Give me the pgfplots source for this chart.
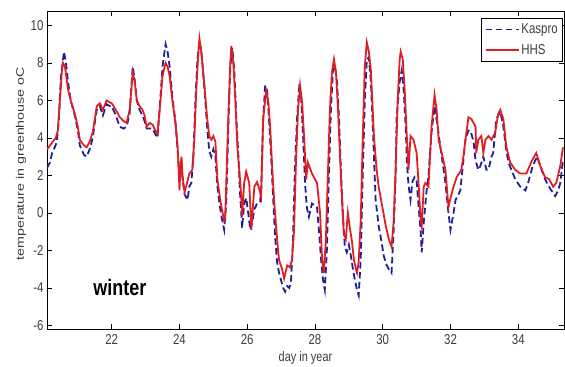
\documentclass[border=0pt]{standalone}
\usepackage{pgfplots}
\pgfplotsset{compat=1.18}
\usepackage{fontspec}
\setmainfont{Liberation Sans}
\definecolor{kblue}{RGB}{30,30,150}
\definecolor{hred}{RGB}{225,30,35}
\definecolor{tgray}{RGB}{60,60,60}
\begin{document}
\begin{tikzpicture}
\begin{axis}[name=ax,
  scale only axis, width=517bp, height=318bp,
  xmin=20.09, xmax=35.35, ymin=-6.19, ymax=10.77,
  xtick={22,24,...,34}, ytick={-6,-4,...,10},
  tick align=inside, major tick length=5bp,
  axis line style={line width=0.8pt}, every tick/.style={black,line width=0.6pt},
  /pgf/number format/assume math mode=true,
  ticklabel style={font=\fontsize{11.5}{13}\selectfont, text=tgray},
  xticklabel={\scalebox{1}[1.25]{\pgfmathprintnumber{\tick}}},
  yticklabel={\scalebox{1}[1.25]{\pgfmathprintnumber{\tick}}},
  xticklabel style={yshift=-2bp},
  xlabel={\scalebox{1}[1.25]{day in year}},
  ylabel={\scalebox{1.3}[1]{temperature in greenhouse oC}},
  label style={font=\fontsize{11}{13}\selectfont, text=tgray},
  xlabel style={at={(axis description cs:0.5,-0.091)}, anchor=center},
  ylabel style={at={(axis description cs:-0.0503,0.52)}, anchor=center},
  legend style={at={(rel axis cs:1,1)}, anchor=north east, xshift=-1bp, yshift=-7bp,
    draw=black, line width=0.6pt, font=\fontsize{11.5}{13}\selectfont,
    inner xsep=3bp, inner ysep=3.5bp, row sep=5bp, text=tgray, cells={anchor=west}},
  legend image code/.code={\draw[#1] (0bp,0bp) -- (33bp,0bp);},
]
\addplot[kblue, line width=1.8pt, dash pattern=on 6.5bp off 3.5bp] coordinates {
(20.09,2.4) (20.18,2.7) (20.24,3.2) (20.32,3.5) (20.38,3.8) (20.44,5.0) (20.50,7.2) (20.59,8.6) (20.65,8.0) (20.71,7.0) (20.79,6.0) (20.91,5.2) (21.00,4.4) (21.06,3.6) (21.18,3.1) (21.26,3.0) (21.35,3.4) (21.44,4.0) (21.50,4.8) (21.56,5.5) (21.65,5.7) (21.74,5.2) (21.85,5.8) (21.94,5.7) (22.00,5.7) (22.12,5.2) (22.24,4.6) (22.35,4.5) (22.44,4.6) (22.53,5.3) (22.59,7.0) (22.62,7.8) (22.68,7.1) (22.74,6.0) (22.82,5.5) (22.91,5.2) (22.97,4.9) (23.03,4.5) (23.12,4.5) (23.21,4.5) (23.26,4.3) (23.35,4.0) (23.44,6.2) (23.50,7.8) (23.59,9.0) (23.65,8.6) (23.71,7.8) (23.79,6.2) (23.88,4.9) (23.94,3.5) (24.00,1.8) (24.06,2.8) (24.09,1.8) (24.15,1.0) (24.24,0.7) (24.29,1.4) (24.35,1.6) (24.41,3.0) (24.47,6.0) (24.53,8.2) (24.59,9.2) (24.65,8.5) (24.74,6.6) (24.82,4.5) (24.88,3.3) (24.94,3.0) (25.00,3.4) (25.06,3.0) (25.12,1.4) (25.18,0.5) (25.24,-0.2) (25.32,-0.9) (25.38,0.5) (25.44,4.5) (25.50,7.8) (25.56,8.8) (25.62,7.5) (25.68,5.0) (25.74,3.0) (25.79,1.0) (25.85,-0.8) (25.91,0.5) (25.97,0.8) (26.03,0.0) (26.09,-0.9) (26.15,-0.5) (26.21,0.2) (26.29,0.5) (26.38,0.6) (26.41,1.2) (26.47,5.0) (26.53,6.8) (26.59,6.5) (26.65,4.8) (26.71,2.8) (26.76,1.0) (26.82,-1.2) (26.88,-2.6) (26.94,-3.2) (27.00,-3.6) (27.06,-4.0) (27.12,-4.2) (27.18,-3.9) (27.24,-4.0) (27.29,-3.7) (27.35,-1.5) (27.41,2.5) (27.47,5.0) (27.53,6.6) (27.59,6.2) (27.65,4.0) (27.71,1.5) (27.76,0.3) (27.82,-0.2) (27.91,0.5) (28.00,0.4) (28.06,0.3) (28.12,-1.0) (28.18,-2.5) (28.24,-3.6) (28.29,-4.1) (28.35,-2.0) (28.41,2.0) (28.47,5.5) (28.53,7.6) (28.59,7.8) (28.65,7.0) (28.71,5.0) (28.76,2.5) (28.82,0.0) (28.88,-1.8) (28.94,-2.1) (29.00,-1.7) (29.06,-2.3) (29.12,-3.0) (29.18,-3.6) (29.24,-4.1) (29.29,-4.4) (29.35,-2.5) (29.41,2.0) (29.47,6.0) (29.53,8.2) (29.59,8.3) (29.65,7.0) (29.71,4.5) (29.79,0.7) (29.88,-0.7) (29.97,-1.6) (30.03,-2.3) (30.12,-2.8) (30.18,-3.0) (30.26,-3.2) (30.32,-1.0) (30.38,2.0) (30.41,5.1) (30.50,7.0) (30.56,7.6) (30.62,6.5) (30.68,4.5) (30.71,2.8) (30.76,1.5) (30.82,0.7) (30.88,1.7) (30.94,1.9) (31.00,1.7) (31.06,0.3) (31.12,-1.0) (31.15,-2.1) (31.21,-0.5) (31.29,1.1) (31.35,2.0) (31.44,4.3) (31.53,5.7) (31.62,4.6) (31.71,3.4) (31.79,2.4) (31.85,1.6) (31.94,0.0) (32.00,-0.9) (32.09,0.0) (32.15,0.7) (32.24,1.0) (32.29,1.2) (32.38,2.8) (32.44,3.9) (32.53,4.4) (32.59,4.4) (32.68,3.8) (32.74,2.8) (32.82,2.3) (32.88,2.5) (32.97,3.0) (33.06,2.3) (33.12,2.3) (33.21,3.0) (33.26,3.2) (33.35,5.0) (33.47,5.4) (33.56,4.6) (33.65,3.3) (33.71,2.7) (33.82,2.2) (33.91,1.8) (34.06,1.4) (34.21,1.2) (34.29,1.6) (34.41,2.4) (34.50,2.8) (34.56,3.0) (34.65,2.5) (34.79,1.8) (34.94,1.3) (35.09,0.9) (35.18,1.2) (35.24,1.6) (35.32,2.8)
};
\addlegendentry{\scalebox{1}[1.25]{Kaspro}}
\addplot[hred, line width=1.8pt] coordinates {
(20.09,3.4) (20.18,3.6) (20.26,3.8) (20.35,4.0) (20.41,4.4) (20.47,6.0) (20.53,7.6) (20.56,8.0) (20.62,7.8) (20.71,6.6) (20.79,6.0) (20.91,5.3) (21.00,4.6) (21.06,3.9) (21.18,3.6) (21.26,3.5) (21.35,3.8) (21.44,4.3) (21.50,5.0) (21.56,5.7) (21.65,5.85) (21.74,5.5) (21.85,6.0) (21.94,5.9) (22.00,5.85) (22.12,5.5) (22.24,5.1) (22.35,4.9) (22.44,4.8) (22.53,5.5) (22.59,6.8) (22.62,7.5) (22.68,7.0) (22.74,6.0) (22.82,5.7) (22.91,5.5) (22.97,5.2) (23.03,4.6) (23.12,4.8) (23.21,4.7) (23.26,4.5) (23.35,4.2) (23.44,6.0) (23.50,7.3) (23.59,8.0) (23.65,7.8) (23.71,7.3) (23.79,6.0) (23.88,4.8) (23.94,3.7) (23.97,2.6) (24.00,1.2) (24.03,2.5) (24.06,3.0) (24.09,2.0) (24.15,1.1) (24.21,1.5) (24.29,2.1) (24.38,2.3) (24.44,4.0) (24.50,6.7) (24.56,8.6) (24.59,9.3) (24.65,8.5) (24.74,6.7) (24.82,5.0) (24.88,4.1) (24.94,3.9) (25.00,4.1) (25.06,3.8) (25.12,1.8) (25.18,1.0) (25.24,0.3) (25.32,-0.4) (25.35,-0.2) (25.38,1.5) (25.44,5.0) (25.50,8.0) (25.53,8.9) (25.59,8.0) (25.65,6.0) (25.71,3.5) (25.76,2.4) (25.82,1.0) (25.85,-0.2) (25.91,1.6) (25.97,2.2) (26.06,1.6) (26.12,-0.9) (26.21,1.4) (26.29,1.65) (26.35,1.3) (26.41,0.85) (26.47,5.0) (26.56,6.5) (26.62,6.0) (26.68,4.5) (26.74,2.3) (26.79,0.8) (26.85,-0.7) (26.91,-2.0) (26.94,-2.5) (27.03,-3.0) (27.09,-3.5) (27.18,-2.8) (27.26,-2.9) (27.32,-2.5) (27.38,-1.0) (27.44,2.8) (27.50,5.5) (27.56,6.8) (27.62,5.9) (27.68,4.0) (27.74,1.8) (27.79,2.7) (27.91,2.1) (28.06,1.6) (28.15,0.0) (28.21,-2.5) (28.26,-3.2) (28.32,-1.5) (28.38,2.0) (28.44,5.5) (28.50,7.5) (28.56,8.2) (28.62,7.5) (28.68,5.5) (28.74,3.0) (28.79,1.0) (28.85,-1.1) (28.91,-1.4) (28.97,0.0) (29.03,-0.8) (29.09,-1.5) (29.15,-2.5) (29.21,-3.0) (29.24,-3.2) (29.29,-2.6) (29.35,-0.4) (29.41,4.0) (29.47,7.8) (29.53,9.1) (29.59,8.6) (29.65,7.6) (29.74,4.1) (29.82,2.3) (29.88,1.4) (30.00,0.2) (30.09,-0.7) (30.18,-1.4) (30.26,-1.8) (30.32,-0.5) (30.38,2.3) (30.44,6.0) (30.50,8.2) (30.53,8.6) (30.59,8.2) (30.65,6.5) (30.71,4.1) (30.76,2.3) (30.82,4.1) (30.91,3.9) (31.00,3.2) (31.06,1.5) (31.12,-0.4) (31.15,-0.7) (31.21,1.4) (31.26,1.6) (31.35,1.4) (31.44,4.6) (31.53,6.3) (31.59,5.5) (31.65,3.9) (31.74,3.2) (31.85,2.3) (31.94,0.3) (32.00,0.8) (32.09,1.4) (32.18,1.9) (32.32,2.3) (32.38,3.0) (32.44,3.9) (32.53,5.1) (32.62,5.0) (32.74,4.6) (32.76,3.2) (32.82,3.9) (32.91,4.1) (32.97,3.2) (33.03,3.9) (33.12,4.1) (33.21,3.9) (33.32,4.3) (33.41,5.3) (33.47,5.5) (33.56,5.0) (33.65,3.5) (33.76,2.7) (33.91,2.3) (34.06,2.1) (34.24,2.1) (34.38,2.7) (34.53,3.2) (34.65,2.5) (34.79,1.9) (34.91,1.8) (35.03,1.4) (35.12,1.6) (35.24,2.5) (35.32,3.5)
};
\addlegendentry{\scalebox{1}[1.25]{HHS}}
\node[font=\bfseries\fontsize{18}{20}\selectfont] at (axis cs:22.24,-3.95) {\scalebox{1}[1.25]{winter}};
\end{axis}
\pgfresetboundingbox
\path ([shift={(-47bp,-38bp)}]ax.south west) rectangle ([shift={(1bp,11bp)}]ax.north east);
\end{tikzpicture}
\end{document}
